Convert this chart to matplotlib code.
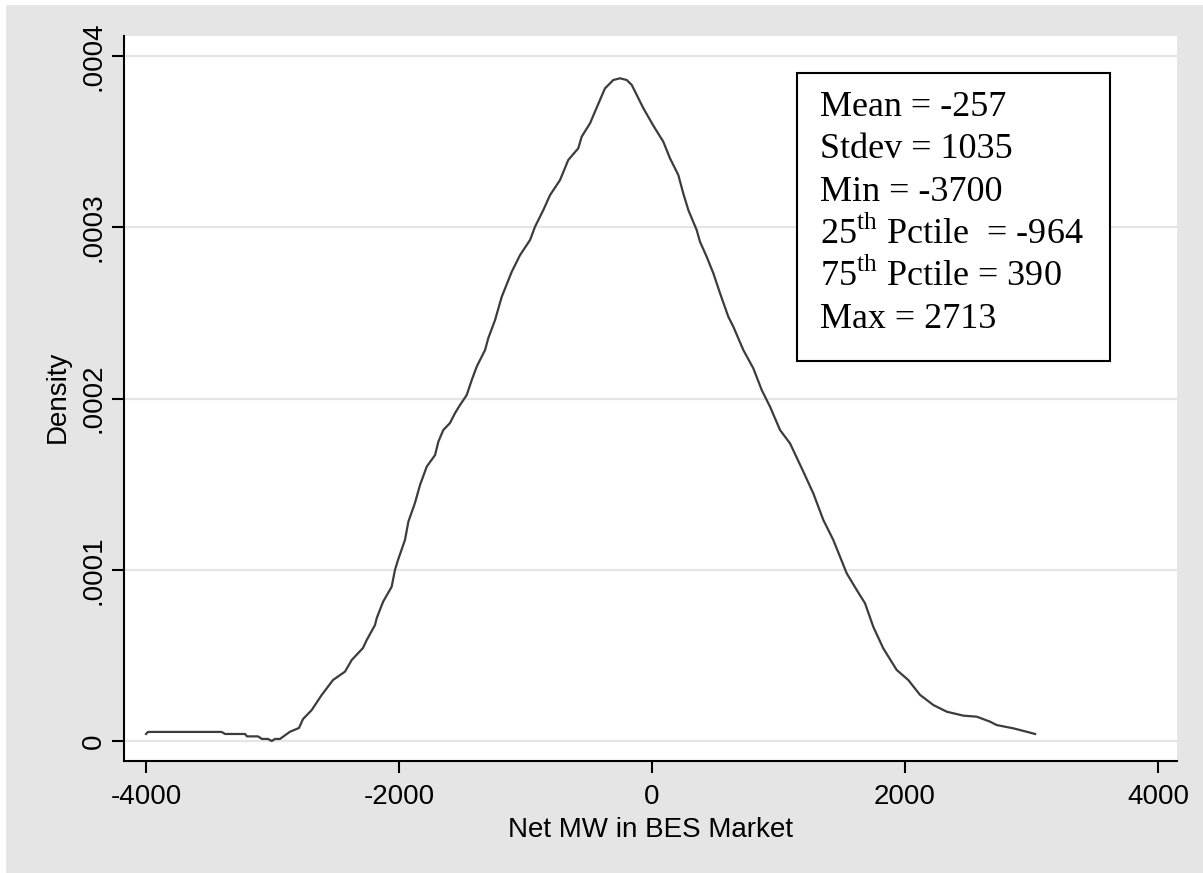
import matplotlib.pyplot as plt
from matplotlib.patches import Rectangle

plt.rcParams['font.family'] = ['Liberation Sans', 'DejaVu Sans']
plt.rcParams['mathtext.fontset'] = 'custom'
plt.rcParams['mathtext.rm'] = 'Liberation Serif'

# kernel density of net MW
net_mw = [-4000, -3984, -3402, -3375, -3217, -3202, -3115, -3083, -3036, -3006,
          -2980, -2941, -2862, -2791, -2759, -2690, -2611, -2522, -2427, -2374,
          -2285, -2255, -2190, -2176, -2126, -2058, -2032, -2008, -1953, -1926,
          -1874, -1834, -1781, -1715, -1689, -1650, -1597, -1557, -1518, -1465,
          -1425, -1386, -1320, -1294, -1241, -1188, -1109, -1043, -964, -925,
          -859, -806, -727, -662, -583, -556, -490, -451, -372, -306,
          -253, -200, -160, -69, 10, 89, 142, 208, 247, 287,
          353, 379, 432, 485, 538, 603, 643, 722, 801, 867,
          933, 1012, 1091, 1196, 1275, 1354, 1433, 1539, 1618, 1684,
          1749, 1828, 1934, 2026, 2119, 2224, 2330, 2461, 2567, 2672,
          2725, 2856, 2962, 3028]
density_e4 = [0.041, 0.053, 0.053, 0.041, 0.041, 0.027, 0.027, 0.012, 0.012, 0.0,
              0.012, 0.012, 0.054, 0.076, 0.128, 0.181, 0.269, 0.356, 0.405, 0.473,
              0.543, 0.590, 0.677, 0.718, 0.813, 0.901, 0.999, 1.057, 1.174, 1.281,
              1.390, 1.495, 1.602, 1.670, 1.748, 1.816, 1.857, 1.915, 1.962, 2.020,
              2.108, 2.186, 2.283, 2.353, 2.458, 2.594, 2.740, 2.838, 2.926, 3.003,
              3.101, 3.188, 3.276, 3.393, 3.461, 3.529, 3.607, 3.675, 3.811, 3.860,
              3.870, 3.860, 3.831, 3.696, 3.594, 3.500, 3.403, 3.305, 3.198, 3.101,
              2.984, 2.916, 2.828, 2.731, 2.614, 2.478, 2.419, 2.283, 2.176, 2.050,
              1.952, 1.816, 1.738, 1.573, 1.446, 1.291, 1.174, 0.979, 0.882, 0.804,
              0.667, 0.541, 0.415, 0.356, 0.269, 0.210, 0.171, 0.148, 0.142, 0.113,
              0.093, 0.074, 0.054, 0.041]
density = [d * 1e-4 for d in density_e4]

x_ticks = [-4000, -2000, 0, 2000, 4000]
y_ticks = [0, 0.0001, 0.0002, 0.0003, 0.0004]
y_tick_labels = ['0', '.0001', '.0002', '.0003', '.0004']

stats_lines = ['Mean = -257', 'Stdev = 1035', 'Min = -3700',
               '25$^{\\rm th}$ Pctile  = -964', '75$^{\\rm th}$ Pctile = 390',
               'Max = 2713']

W, H = 1203, 873
fig = plt.figure(figsize=(W / 100, H / 100), dpi=100, facecolor='white')
fig.patches.append(Rectangle((6 / W, 0), 1, 1 - 5 / H, transform=fig.transFigure,
                             facecolor='#e5e5e5', edgecolor='none', zorder=-1))

ax = fig.add_axes([124 / W, 1 - 761 / H, (1177 - 124) / W, (761 - 36) / H])
ax.set_zorder(1)
ax.set_facecolor('white')
ax.plot(net_mw, density, color='#3c3c3c', lw=1.6, zorder=3)

ax.set_xlim(-4174, 4150)
ax.set_ylim(-1.168e-5, 4.117e-4)
ax.set_xticks(x_ticks)
ax.set_xticklabels([str(v) for v in x_ticks])
ax.set_yticks(y_ticks)
ax.set_yticklabels(y_tick_labels, rotation=90, va='center')
ax.grid(axis='y', color='#e5e5e5', lw=1.6, zorder=1)
ax.set_axisbelow(True)

for s in ['top', 'right']:
    ax.spines[s].set_visible(False)
for s in ['left', 'bottom']:
    ax.spines[s].set_linewidth(1.5)
ax.tick_params(axis='both', length=8.6, width=1.5, labelsize=20, direction='out')
ax.tick_params(axis='x', pad=8)
ax.tick_params(axis='y', pad=4)

fig.text(650.5 / W, 1 - 837 / H, 'Net MW in BES Market', fontsize=20,
         ha='center', va='baseline')
fig.text(65 / W, 1 - 396.5 / H, 'Density', fontsize=20, rotation=90,
         rotation_mode='anchor', ha='center', va='baseline')

# stats box
fig.patches.append(Rectangle((797 / W, 1 - 361 / H), (1110 - 797) / W, (361 - 72.7) / H,
                             transform=fig.transFigure, facecolor='white',
                             edgecolor='black', lw=1.5, zorder=5))
for i, line in enumerate(stats_lines):
    fig.text(820 / W, 1 - (116 + 42.5 * i) / H, line, fontsize=26,
             family='Liberation Serif', ha='left', va='baseline', zorder=6)

fig.savefig('out.png', dpi=100)
